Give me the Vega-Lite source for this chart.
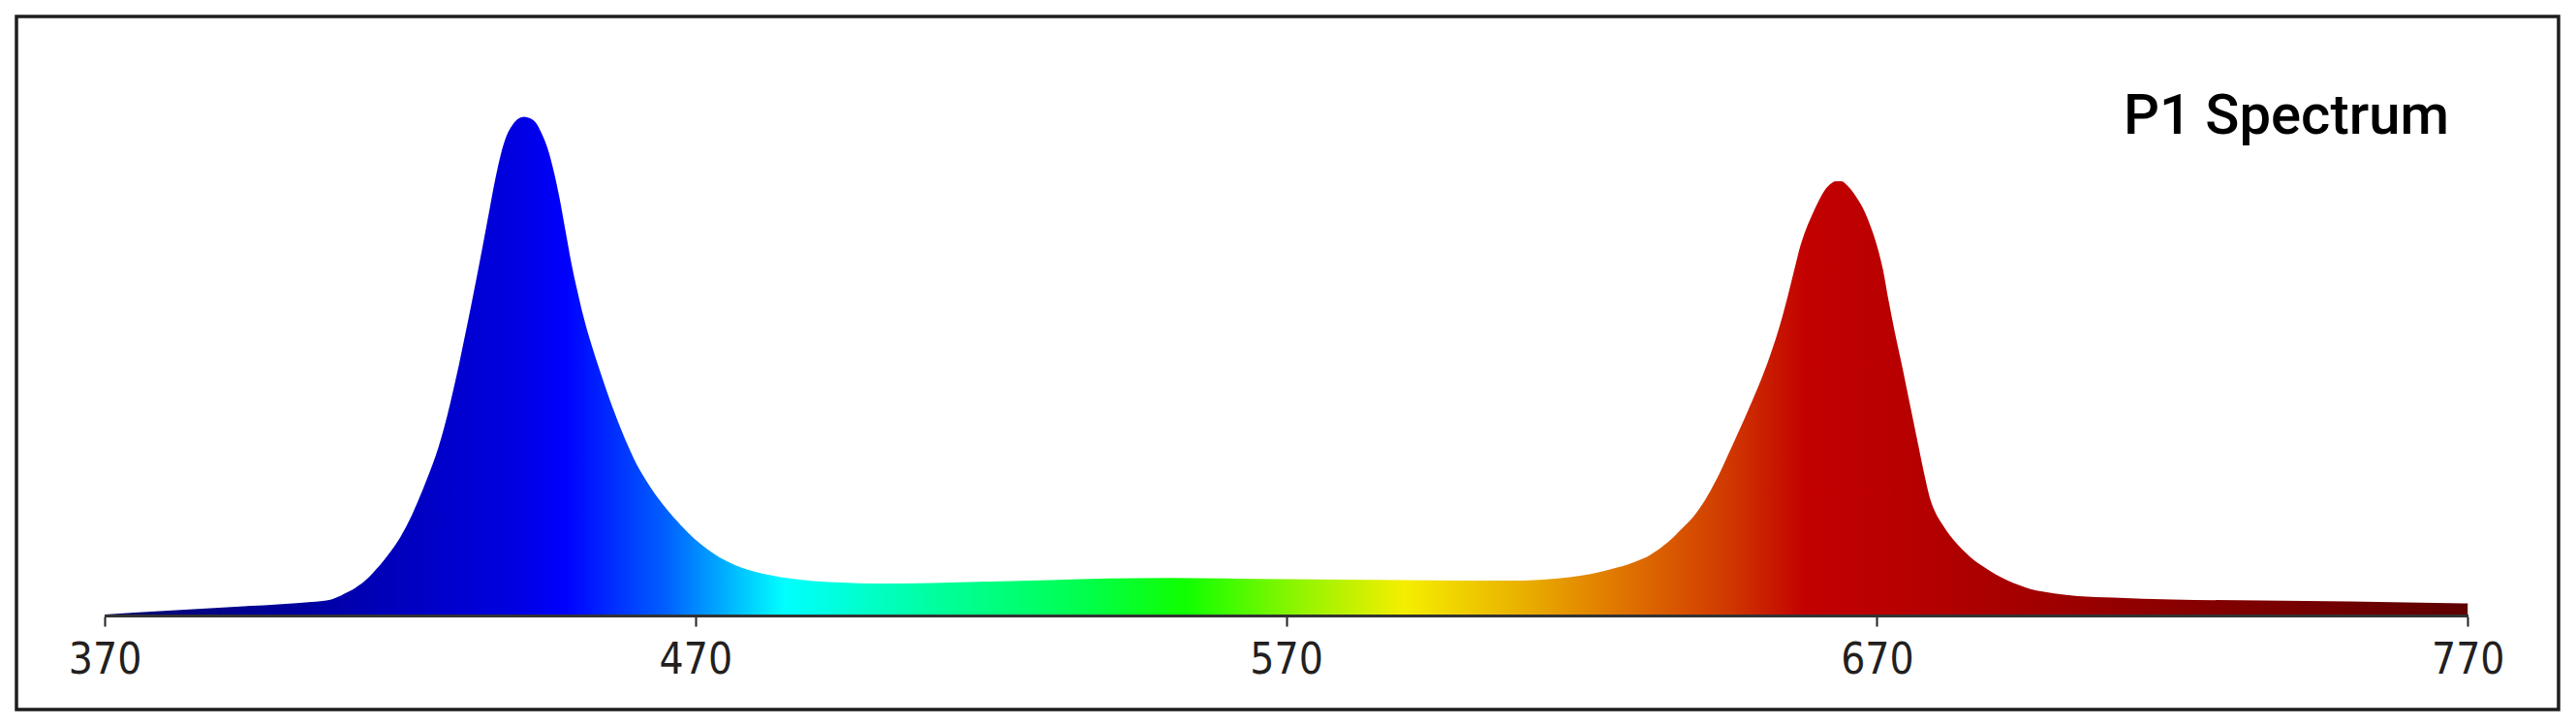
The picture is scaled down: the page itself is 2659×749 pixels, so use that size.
{
  "$schema": "https://vega.github.io/schema/vega-lite/v6.json",
  "width": 2624,
  "height": 715,
  "autosize": {"type": "none"},
  "padding": {"left": 17, "top": 17, "right": 18, "bottom": 17},
  "background": "#ffffff",
  "title": {
    "text": "P1 Spectrum",
    "anchor": "end",
    "orient": "top",
    "frame": "group",
    "offset": -179,
    "baseline": "alphabetic",
    "dx": -113,
    "font": "Roboto",
    "fontSize": 58,
    "fontWeight": 500,
    "color": "#000000"
  },
  "config": {
    "view": {"stroke": "#1e1e1e", "strokeWidth": 3.5}
  },
  "data": {
    "values": [
      {"wl": 370, "v": 0.003}, {"wl": 380, "v": 0.01}, {"wl": 390, "v": 0.017},
      {"wl": 400, "v": 0.024}, {"wl": 405, "v": 0.028}, {"wl": 408, "v": 0.032},
      {"wl": 409, "v": 0.036}, {"wl": 410, "v": 0.041}, {"wl": 411, "v": 0.047},
      {"wl": 412, "v": 0.053}, {"wl": 413, "v": 0.061}, {"wl": 414, "v": 0.07},
      {"wl": 415, "v": 0.081}, {"wl": 416, "v": 0.094}, {"wl": 417, "v": 0.108},
      {"wl": 418, "v": 0.123}, {"wl": 419, "v": 0.139}, {"wl": 420, "v": 0.157},
      {"wl": 421, "v": 0.178}, {"wl": 422, "v": 0.202}, {"wl": 423, "v": 0.229},
      {"wl": 424, "v": 0.258}, {"wl": 425, "v": 0.288}, {"wl": 426, "v": 0.32},
      {"wl": 427, "v": 0.358}, {"wl": 428, "v": 0.402}, {"wl": 429, "v": 0.452},
      {"wl": 430, "v": 0.505}, {"wl": 431, "v": 0.562}, {"wl": 432, "v": 0.62},
      {"wl": 433, "v": 0.68}, {"wl": 434, "v": 0.742}, {"wl": 435, "v": 0.805},
      {"wl": 436, "v": 0.868}, {"wl": 437, "v": 0.922}, {"wl": 438, "v": 0.961},
      {"wl": 439, "v": 0.983}, {"wl": 440, "v": 0.996}, {"wl": 441, "v": 1.0},
      {"wl": 442, "v": 0.997}, {"wl": 443, "v": 0.988}, {"wl": 444, "v": 0.966},
      {"wl": 445, "v": 0.936}, {"wl": 446, "v": 0.892}, {"wl": 447, "v": 0.837},
      {"wl": 448, "v": 0.772}, {"wl": 449, "v": 0.707}, {"wl": 450, "v": 0.652},
      {"wl": 451, "v": 0.602}, {"wl": 452, "v": 0.559}, {"wl": 453, "v": 0.521},
      {"wl": 454, "v": 0.485}, {"wl": 455, "v": 0.45}, {"wl": 456, "v": 0.417},
      {"wl": 457, "v": 0.386}, {"wl": 458, "v": 0.357}, {"wl": 459, "v": 0.33},
      {"wl": 460, "v": 0.305}, {"wl": 461, "v": 0.284}, {"wl": 462, "v": 0.265},
      {"wl": 463, "v": 0.247}, {"wl": 464, "v": 0.231}, {"wl": 465, "v": 0.216},
      {"wl": 466, "v": 0.202}, {"wl": 467, "v": 0.189}, {"wl": 468, "v": 0.176},
      {"wl": 469, "v": 0.164}, {"wl": 470, "v": 0.153}, {"wl": 472, "v": 0.134},
      {"wl": 474, "v": 0.118}, {"wl": 476, "v": 0.106}, {"wl": 478, "v": 0.096},
      {"wl": 480, "v": 0.089}, {"wl": 483, "v": 0.081}, {"wl": 486, "v": 0.075},
      {"wl": 490, "v": 0.07}, {"wl": 495, "v": 0.067}, {"wl": 500, "v": 0.065},
      {"wl": 505, "v": 0.065}, {"wl": 510, "v": 0.066}, {"wl": 520, "v": 0.069},
      {"wl": 530, "v": 0.072}, {"wl": 540, "v": 0.075}, {"wl": 550, "v": 0.076},
      {"wl": 560, "v": 0.075}, {"wl": 570, "v": 0.074}, {"wl": 580, "v": 0.073},
      {"wl": 590, "v": 0.072}, {"wl": 600, "v": 0.071}, {"wl": 608, "v": 0.071},
      {"wl": 612, "v": 0.072}, {"wl": 616, "v": 0.075}, {"wl": 620, "v": 0.081},
      {"wl": 623, "v": 0.088}, {"wl": 626, "v": 0.097}, {"wl": 628, "v": 0.104},
      {"wl": 630, "v": 0.113}, {"wl": 631, "v": 0.118}, {"wl": 632, "v": 0.125},
      {"wl": 633, "v": 0.133}, {"wl": 634, "v": 0.142}, {"wl": 635, "v": 0.152},
      {"wl": 636, "v": 0.163}, {"wl": 637, "v": 0.175}, {"wl": 638, "v": 0.187},
      {"wl": 639, "v": 0.2}, {"wl": 640, "v": 0.216}, {"wl": 641, "v": 0.234},
      {"wl": 642, "v": 0.255}, {"wl": 643, "v": 0.277}, {"wl": 644, "v": 0.302},
      {"wl": 645, "v": 0.328}, {"wl": 646, "v": 0.354}, {"wl": 647, "v": 0.38},
      {"wl": 648, "v": 0.407}, {"wl": 649, "v": 0.434}, {"wl": 650, "v": 0.462},
      {"wl": 651, "v": 0.492}, {"wl": 652, "v": 0.525}, {"wl": 653, "v": 0.56},
      {"wl": 654, "v": 0.6}, {"wl": 655, "v": 0.645}, {"wl": 656, "v": 0.693},
      {"wl": 657, "v": 0.74}, {"wl": 658, "v": 0.775}, {"wl": 659, "v": 0.803},
      {"wl": 660, "v": 0.828}, {"wl": 661, "v": 0.85}, {"wl": 662, "v": 0.864},
      {"wl": 663, "v": 0.871}, {"wl": 664, "v": 0.871}, {"wl": 665, "v": 0.862},
      {"wl": 666, "v": 0.848}, {"wl": 667, "v": 0.83}, {"wl": 668, "v": 0.808},
      {"wl": 669, "v": 0.778}, {"wl": 670, "v": 0.742}, {"wl": 671, "v": 0.695},
      {"wl": 672, "v": 0.63}, {"wl": 673, "v": 0.57}, {"wl": 674, "v": 0.515},
      {"wl": 675, "v": 0.458}, {"wl": 676, "v": 0.4}, {"wl": 677, "v": 0.342},
      {"wl": 678, "v": 0.285}, {"wl": 679, "v": 0.235}, {"wl": 680, "v": 0.205},
      {"wl": 681, "v": 0.185}, {"wl": 682, "v": 0.167}, {"wl": 683, "v": 0.152},
      {"wl": 684, "v": 0.139}, {"wl": 685, "v": 0.127}, {"wl": 686, "v": 0.116},
      {"wl": 688, "v": 0.099}, {"wl": 690, "v": 0.084}, {"wl": 692, "v": 0.072},
      {"wl": 694, "v": 0.062}, {"wl": 696, "v": 0.054}, {"wl": 698, "v": 0.049},
      {"wl": 700, "v": 0.045}, {"wl": 704, "v": 0.04}, {"wl": 710, "v": 0.037},
      {"wl": 720, "v": 0.033}, {"wl": 735, "v": 0.031}, {"wl": 750, "v": 0.029},
      {"wl": 770, "v": 0.025}
    ]
  },
  "layer": [
    {
      "mark": {
        "type": "area",
        "interpolate": "monotone",
        "color": {
          "gradient": "linear",
          "x1": 0, "y1": 0, "x2": 1, "y2": 0,
          "stops": [
            {"offset": 0, "color": "#0a0a6e"},
            {"offset": 0.075, "color": "#00009a"},
            {"offset": 0.125, "color": "#0000be"},
            {"offset": 0.175, "color": "#0000e2"},
            {"offset": 0.195, "color": "#0000ff"},
            {"offset": 0.2375, "color": "#0060ff"},
            {"offset": 0.2875, "color": "#00ffff"},
            {"offset": 0.35, "color": "#00ffa0"},
            {"offset": 0.4125, "color": "#00ff50"},
            {"offset": 0.4575, "color": "#10ff00"},
            {"offset": 0.505, "color": "#90f500"},
            {"offset": 0.55, "color": "#f5ee00"},
            {"offset": 0.6, "color": "#e9b000"},
            {"offset": 0.645, "color": "#df7000"},
            {"offset": 0.6875, "color": "#d03800"},
            {"offset": 0.72, "color": "#c20000"},
            {"offset": 0.755, "color": "#ba0000"},
            {"offset": 0.8125, "color": "#a40000"},
            {"offset": 0.9, "color": "#800000"},
            {"offset": 1, "color": "#5e0000"}
          ]
        }
      },
      "encoding": {
        "x": {
          "field": "wl",
          "type": "quantitative",
          "scale": {"domain": [355.07, 785.38], "nice": false, "zero": false},
          "axis": {
            "values": [370, 470, 570, 670, 770],
            "title": null,
            "grid": false,
            "domain": false,
            "offset": -96,
            "tickSize": 10,
            "tickWidth": 2,
            "tickColor": "#231f20",
            "labelFont": "Liberation Sans Narrow, DejaVu Sans Condensed, sans-serif",
            "labelFontSize": 44,
            "labelColor": "#231f20",
            "labelPadding": 13,
            "labelFlush": false,
            "labelOverlap": false
          }
        },
        "y": {
          "field": "v",
          "type": "quantitative",
          "scale": {"domain": [-0.1874, 1.201], "nice": false, "zero": false},
          "axis": null
        },
        "y2": {"datum": 0}
      }
    },
    {
      "mark": {"type": "rule", "color": "#333333", "strokeWidth": 2},
      "encoding": {
        "x": {"datum": 370},
        "x2": {"datum": 770},
        "y": {"datum": 0}
      }
    }
  ]
}
